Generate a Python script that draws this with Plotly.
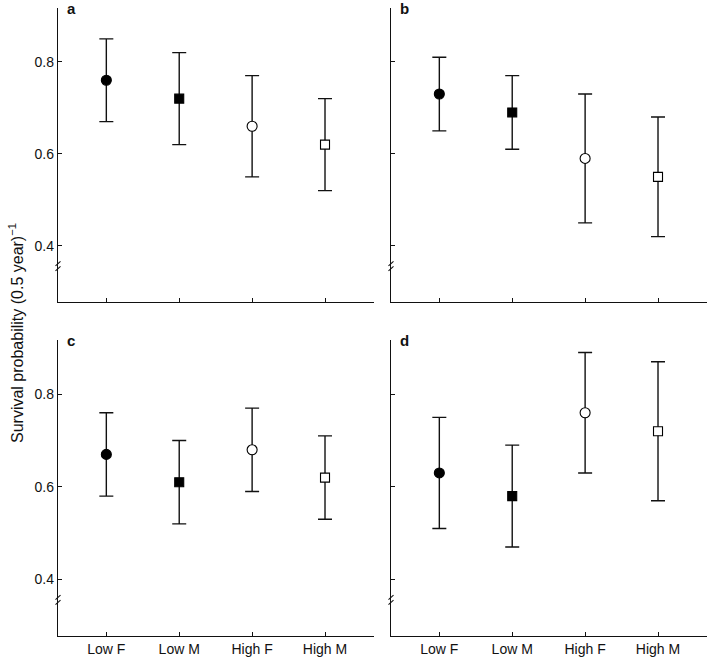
import plotly.graph_objects as go

categories = ["Low F", "Low M", "High F", "High M"]
panel_letters = ["a", "b", "c", "d"]
# estimates and 95% CI per panel
est = {
    "a": [0.76, 0.72, 0.66, 0.62],
    "b": [0.73, 0.69, 0.59, 0.55],
    "c": [0.67, 0.61, 0.68, 0.62],
    "d": [0.63, 0.58, 0.76, 0.72],
}
upper = {
    "a": [0.85, 0.82, 0.77, 0.72],
    "b": [0.81, 0.77, 0.73, 0.68],
    "c": [0.76, 0.70, 0.77, 0.71],
    "d": [0.75, 0.69, 0.89, 0.87],
}
lower = {
    "a": [0.67, 0.62, 0.55, 0.52],
    "b": [0.65, 0.61, 0.45, 0.42],
    "c": [0.58, 0.52, 0.59, 0.53],
    "d": [0.51, 0.47, 0.63, 0.57],
}
y_tickvals = [0.4, 0.6, 0.8]
y_ticktext = ["0.4", "0.6", "0.8"]
axis_break_value = 0.356

W, H = 709, 658
ink = "#111111"
font_family = "Liberation Sans, Arial, sans-serif"

fig = go.Figure()

xdom = [[58 / W, 374 / W], [391 / W, 707 / W]]
ydom = [[1 - 302 / H, 1 - 8 / H], [1 - 636 / H, 1 - 340 / H]]
x_range = [-0.663, 3.672]
y_range = [0.278, 0.917]

symbols = ["circle", "square", "circle", "square"]
fills = ["#000000", "#000000", "white", "white"]
sizes = [10, 9, 10, 9]

for i, p in enumerate(panel_letters):
    row, col = divmod(i, 2)
    n = i + 1
    xa = "x" if n == 1 else f"x{n}"
    ya = "y" if n == 1 else f"y{n}"
    e = est[p]
    up = [u - v for u, v in zip(upper[p], e)]
    dn = [v - l for v, l in zip(e, lower[p])]
    fig.add_trace(go.Scatter(
        x=categories, y=e, mode="markers", xaxis=xa, yaxis=ya,
        marker=dict(symbol=symbols, color=fills, size=sizes, opacity=1,
                    line=dict(color="#000000", width=1.1)),
        error_y=dict(type="data", symmetric=False, array=up, arrayminus=dn,
                     color=ink, thickness=1.4, width=7),
        showlegend=False, cliponaxis=False, hoverinfo="skip",
    ))
    xkey = "xaxis" if n == 1 else f"xaxis{n}"
    ykey = "yaxis" if n == 1 else f"yaxis{n}"
    fig.layout[xkey] = dict(
        domain=xdom[col], anchor=ya, range=x_range, type="category",
        showline=True, linecolor=ink, linewidth=1.3, ticks="inside",
        ticklen=4, tickcolor=ink, tickwidth=1.1, showgrid=False, zeroline=False,
        showticklabels=(row == 1), tickfont=dict(size=14, color=ink, family=font_family),
        fixedrange=True,
    )
    fig.layout[ykey] = dict(
        domain=ydom[row], anchor=xa, range=y_range,
        tickvals=y_tickvals, ticktext=y_ticktext,
        showline=True, linecolor=ink, linewidth=1.3, ticks="inside",
        ticklen=4, tickcolor=ink, tickwidth=1.1, showgrid=False, zeroline=False,
        showticklabels=(col == 0), tickfont=dict(size=14, color=ink, family=font_family),
        fixedrange=True,
    )
    # axis break marks
    for dy in (-2.5, 2.5):
        fig.add_shape(type="line", xref=f"{xa} domain", yref=ya,
                      xsizemode="pixel", ysizemode="pixel",
                      xanchor=0, yanchor=axis_break_value,
                      x0=-2.5, x1=2.5, y0=dy - 2.2, y1=dy + 2.2,
                      line=dict(color=ink, width=1.1))
    # panel letter
    fig.add_annotation(text=f"<b>{p}</b>", xref=f"{xa} domain", yref=f"{ya} domain",
                       x=0.022, y=1.0, xanchor="left", yanchor="middle",
                       showarrow=False, font=dict(size=15, color=ink, family=font_family))

fig.add_annotation(text="Survival probability (0.5 year)<sup>−1</sup>",
                   xref="paper", yref="paper", x=16 / W, y=1 - 333 / H,
                   xanchor="center", yanchor="middle", textangle=-90, showarrow=False,
                   font=dict(size=16, color=ink, family=font_family))

fig.update_layout(width=W, height=H, margin=dict(l=0, r=0, t=0, b=0),
                  paper_bgcolor="white", plot_bgcolor="white",
                  font=dict(family=font_family, color=ink), hovermode=False)

fig.write_html("out.html", config={"displayModeBar": False},
               post_script="document.body.style.margin='0';")
